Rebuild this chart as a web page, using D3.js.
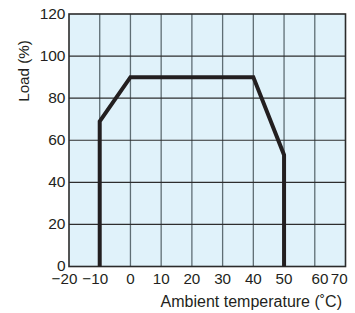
<!DOCTYPE html>
<html><head><meta charset="utf-8">
<script src="https://cdn.jsdelivr.net/npm/d3@7"></script>
<style>
body{margin:0;background:#fff;}
text{font-family:"Liberation Sans",Arial,sans-serif;fill:#231f20;}
</style></head>
<body><svg id="c" width="355" height="313"></svg>
<script>
const temps = [-10, -10, 0, 40, 50, 50];
const loads = [0, 69, 90, 90, 53, 0];
const xTicks = [-20, -10, 0, 10, 20, 30, 40, 50, 60, 70];
const yTicks = [0, 20, 40, 60, 80, 100, 120];
const xTitle = "Ambient temperature (˚C)";
const yTitle = "Load (%)";

const svg = d3.select("#c");
const L = 69, R = 345.5, T = 14, B = 266.5;
const x = d3.scaleLinear().domain([-20, 70]).range([L, R]);
const y = d3.scaleLinear().domain([0, 120]).range([B, T]);

svg.append("rect").attr("x", L).attr("y", T).attr("width", R - L).attr("height", B - T)
  .attr("fill", "#e0f2fa");

// grid
svg.append("g").selectAll("line").data(xTicks.slice(1, -1)).join("line")
  .attr("x1", d => x(d)).attr("x2", d => x(d)).attr("y1", T).attr("y2", B)
  .attr("stroke", "#5f6e74").attr("stroke-width", 1.3);
svg.append("g").selectAll("line").data(yTicks.slice(1, -1)).join("line")
  .attr("x1", L).attr("x2", R).attr("y1", d => y(d)).attr("y2", d => y(d))
  .attr("stroke", "#2e2e2e").attr("stroke-width", 1.1);

svg.append("rect").attr("x", L).attr("y", T).attr("width", R - L).attr("height", B - T)
  .attr("fill", "none").attr("stroke", "#2b2b2b").attr("stroke-width", 1.6);

// data line
const pts = temps.map((t, i) => [t, loads[i]]);
svg.append("path").datum(pts)
  .attr("d", d3.line().x(d => x(d[0])).y(d => y(d[1])))
  .attr("fill", "none").attr("stroke", "#231f20").attr("stroke-width", 4)
  .attr("stroke-linejoin", "miter");

// y tick labels
svg.append("g").selectAll("text").data(yTicks).join("text")
  .attr("x", 65.5).attr("y", d => y(d) - 1).attr("dy", "0.36em")
  .attr("text-anchor", "end").attr("font-size", 15.5).text(d => d);

// x tick labels
const xShift = d => d < 0 ? -4.5 : (d === 60 ? 5.3 : (d === 70 ? -6.3 : 0));
svg.append("g").selectAll("text").data(xTicks).join("text")
  .attr("x", d => x(d) + xShift(d)).attr("y", 284)
  .attr("text-anchor", "middle").attr("font-size", 15.2)
  .text(d => d < 0 ? "\u2212" + Math.abs(d) : d);

svg.append("text").attr("x", 342).attr("y", 306.5).attr("text-anchor", "end")
  .attr("font-size", 16).text(xTitle);

svg.append("text").attr("transform", "translate(29,71) rotate(-90)")
  .attr("text-anchor", "middle").attr("font-size", 15.2).text(yTitle);
</script></body></html>
